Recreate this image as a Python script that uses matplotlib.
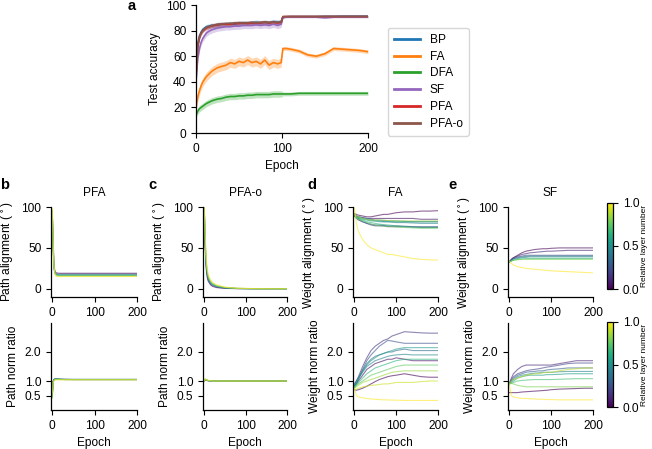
import numpy as np
import matplotlib
matplotlib.use("Agg")
import matplotlib.pyplot as plt
from matplotlib.cm import ScalarMappable
from matplotlib.colors import Normalize

plt.rcParams['font.family'] = ['Liberation Sans', 'DejaVu Sans']
plt.rcParams['font.size'] = 8.6
plt.rcParams['axes.linewidth'] = 0.9
plt.rcParams['xtick.major.size'] = 3.5
plt.rcParams['ytick.major.size'] = 3.5

# ---------------- Panel a data ----------------
epochs_a = [0, 2, 4, 6, 8, 10, 12, 15, 18, 20, 25, 30, 35, 40, 45, 50, 55, 60, 65, 70,
            75, 80, 85, 90, 95, 99, 101, 105, 110, 120, 130, 140, 150, 160, 170, 180, 190, 200]
methods = ['BP', 'FA', 'DFA', 'SF', 'PFA', 'PFA-o']
method_colors = ['#1f77b4', '#ff7f0e', '#2ca02c', '#9467bd', '#d62728', '#8c564b']
acc_bp = [45, 70, 76, 79, 81, 82, 83, 83.5, 84, 84, 84.5, 85, 85, 85.5, 85, 86, 85.5, 86, 86, 86.5,
          86, 86.5, 86, 87, 86.5, 87, 90.5, 90.8, 91, 91, 91, 91, 91.2, 91.2, 91.3, 91.3, 91.3, 91.3]
acc_fa = [20, 28, 33, 37, 40, 42, 44, 46, 48, 49, 51, 52, 53, 55, 54, 56, 55, 57, 55, 56,
          54, 57, 53, 55, 54, 55, 66, 66, 65.5, 64, 61, 60, 62, 66, 65.5, 65, 64.5, 63.5]
acc_dfa = [14, 17, 19, 20, 21, 22, 23, 24, 25, 25.5, 26.5, 27, 28, 28.5, 28.5, 29, 29, 29.5, 29.5, 30,
           30, 30, 30, 30.5, 30.5, 30.5, 30.5, 30.5, 30.5, 31, 31, 31, 31, 31, 31, 31, 31, 31]
acc_sf = [40, 58, 66, 71, 74, 76, 78, 79.5, 80.5, 81, 82, 82.5, 83, 83, 83.5, 83.5, 84, 84, 84, 84.5,
          84, 84.5, 84, 85, 84, 85, 90, 90.5, 90.5, 90.5, 90.5, 90.5, 90, 90.5, 90.5, 90.5, 90.5, 90.5]
acc_pfa = [45, 68, 75, 78, 80, 81, 82, 83, 83.5, 84, 84.5, 85, 85, 85, 85.5, 85.5, 86, 85.5, 86, 86,
           86, 86.5, 86, 86.5, 86, 86.5, 91, 91, 91, 91, 91, 91, 91, 91, 91, 91, 91, 91]
acc_pfao = [42, 67, 74, 78, 80, 81.5, 82.5, 83, 84, 84, 85, 85, 85.5, 85.5, 86, 86, 86, 86, 86.5, 86,
            86.5, 86.5, 86.5, 86.5, 86.5, 86.5, 90.8, 91, 91, 91, 91, 91, 91, 91, 91, 91, 91, 91]
acc_all = [acc_bp, acc_fa, acc_dfa, acc_sf, acc_pfa, acc_pfao]
# spread (std) before / after epoch 100
acc_spread_pre = [1.8, 3.5, 2.5, 2.5, 1.5, 1.5]
acc_spread_post = [0.4, 1.5, 1.5, 0.6, 0.4, 0.4]

# ---------------- Layer panels data ----------------
epochs_bc = [0, 2, 4, 6, 8, 10, 15, 20, 30, 50, 80, 120, 160, 200]
epochs_de = [0, 5, 10, 20, 30, 40, 50, 60, 70, 80, 90, 100, 120, 140, 160, 180, 200]

layers_b = [0.0, 0.2, 0.4, 0.55, 0.7, 0.85, 1.0]
pfa_align = [
    [95, 60, 30, 22, 20, 19.5, 19, 19, 19, 19, 19, 19, 19, 19],
    [93, 55, 28, 21, 19, 18, 18, 18, 18, 18, 18, 18, 18, 18],
    [92, 50, 25, 19, 17.5, 17, 16.5, 16.5, 16.5, 16.5, 16.5, 16.5, 16.5, 16.5],
    [94, 52, 26, 20, 18, 17.5, 17, 17, 17, 17, 17, 17, 17, 17],
    [96, 55, 27, 20, 18, 17, 16.5, 16.5, 16.5, 16.5, 16.5, 16.5, 16.5, 16.5],
    [97, 58, 27, 19, 17, 16, 15.5, 15.5, 15.5, 15.5, 15.5, 15.5, 15.5, 15.5],
    [98, 60, 28, 19, 16, 15, 15, 15, 15, 15, 15, 15, 15, 15],
]
pfa_norm = [
    [0.55, 1.0, 1.05, 1.06, 1.06, 1.06, 1.06, 1.06, 1.05, 1.05, 1.05, 1.05, 1.05, 1.05],
    [0.5, 0.98, 1.05, 1.07, 1.07, 1.07, 1.06, 1.06, 1.06, 1.05, 1.05, 1.05, 1.05, 1.05],
    [0.45, 0.97, 1.04, 1.07, 1.08, 1.08, 1.07, 1.06, 1.06, 1.06, 1.06, 1.06, 1.06, 1.06],
    [0.5, 0.96, 1.03, 1.06, 1.07, 1.07, 1.06, 1.06, 1.05, 1.05, 1.05, 1.05, 1.05, 1.05],
    [0.45, 0.95, 1.03, 1.05, 1.06, 1.06, 1.06, 1.05, 1.05, 1.05, 1.05, 1.05, 1.05, 1.05],
    [0.4, 0.93, 1.02, 1.04, 1.05, 1.05, 1.05, 1.05, 1.05, 1.05, 1.05, 1.05, 1.05, 1.05],
    [0.6, 0.95, 1.0, 1.03, 1.04, 1.04, 1.04, 1.04, 1.04, 1.04, 1.04, 1.04, 1.04, 1.04],
]
pfao_align = [
    [100, 55, 30, 18, 12, 9, 5, 3, 1.5, 0.5, 0.2, 0.1, 0.1, 0.1],
    [100, 58, 33, 20, 14, 10, 6, 4, 2, 0.8, 0.3, 0.1, 0.1, 0.1],
    [99, 60, 35, 22, 16, 12, 7, 5, 3, 1.2, 0.4, 0.2, 0.1, 0.1],
    [100, 62, 37, 24, 17, 13, 8, 5.5, 3, 1.2, 0.4, 0.2, 0.1, 0.1],
    [100, 65, 40, 26, 19, 14, 9, 6, 3.5, 1.5, 0.5, 0.2, 0.1, 0.1],
    [100, 68, 42, 28, 20, 15, 10, 7, 4, 1.8, 0.6, 0.2, 0.1, 0.1],
    [100, 70, 45, 30, 22, 17, 11, 8, 5, 2, 0.7, 0.3, 0.1, 0.1],
]
pfao_norm = [
    [1.0, 1.04, 1.03, 1.02, 1.01, 1.01, 1.0, 1.0, 1.0, 1.0, 1.0, 1.0, 1.0, 1.0],
    [1.0, 1.05, 1.04, 1.03, 1.02, 1.01, 1.0, 1.0, 1.0, 1.0, 1.0, 1.0, 1.0, 1.0],
    [1.0, 1.06, 1.05, 1.03, 1.02, 1.01, 1.01, 1.0, 1.0, 1.0, 1.0, 1.0, 1.0, 1.0],
    [1.0, 1.05, 1.04, 1.03, 1.02, 1.01, 1.0, 1.0, 1.0, 1.0, 1.0, 1.0, 1.0, 1.0],
    [1.0, 1.06, 1.05, 1.04, 1.02, 1.01, 1.01, 1.0, 1.0, 1.0, 1.0, 1.0, 1.0, 1.0],
    [1.0, 1.07, 1.05, 1.04, 1.03, 1.02, 1.01, 1.0, 1.0, 1.0, 1.0, 1.0, 1.0, 1.0],
    [1.0, 1.08, 1.06, 1.04, 1.03, 1.02, 1.01, 1.0, 1.0, 1.0, 1.0, 1.0, 1.0, 1.0],
]

layers_d = [0.0, 0.05, 0.15, 0.25, 0.35, 0.45, 0.55, 0.65, 0.75, 0.85, 1.0]
fa_align = [
    [92, 91, 90, 89, 88, 88, 89, 90, 91, 91, 92, 93, 94, 94, 95, 95, 95.5],
    [91, 89, 88, 87, 86, 86, 86, 86, 86, 86, 86, 86, 86, 86, 85, 85, 85],
    [90, 87, 85, 82, 80, 78, 77, 77, 77, 76, 76, 76, 76, 75.5, 75, 75, 75],
    [89, 86, 84, 82, 80, 79, 78, 78, 77.5, 77, 77, 77, 76.5, 76, 76, 76, 76],
    [91, 89, 88, 87, 86, 85, 84, 84, 83.5, 83, 83, 83, 82.5, 82, 82, 82, 82],
    [90, 88, 87, 86, 85, 84, 83, 83, 82, 82, 81.5, 81, 81, 80.5, 80, 80, 80],
    [89, 87, 86, 85, 84, 83, 83, 82, 82, 82, 82, 82, 82, 82, 82, 82, 82],
    [91, 88, 86, 84, 82, 81, 80, 79, 78.5, 78, 77.5, 77, 76, 75.5, 75, 75, 75],
    [90, 87, 85, 83, 81, 79, 78, 77, 76.5, 76, 76, 75.5, 75, 74.5, 74, 74, 74],
    [92, 89, 88, 86, 85, 84, 84, 84, 84, 83.5, 83.5, 83, 83, 83, 83, 83, 83],
    [100, 80, 70, 60, 54, 50, 48, 46, 44, 42, 42, 41, 39, 37, 36, 35.5, 35],
]
layers_dn = [0.0, 0.05, 0.15, 0.25, 0.35, 0.45, 0.55, 0.65, 0.75, 0.85, 0.92, 1.0]
fa_norm = [
    [0.7, 0.68, 0.7, 0.75, 0.82, 0.9, 0.98, 1.05, 1.1, 1.15, 1.18, 1.2, 1.25, 1.2, 1.15, 1.13, 1.13],
    [0.8, 0.9, 1.0, 1.2, 1.4, 1.5, 1.6, 1.65, 1.7, 1.75, 1.75, 1.8, 1.75, 1.7, 1.7, 1.7, 1.7],
    [0.85, 1.0, 1.15, 1.5, 1.8, 2.05, 2.2, 2.3, 2.4, 2.45, 2.55, 2.6, 2.7, 2.68, 2.66, 2.65, 2.65],
    [0.9, 1.0, 1.1, 1.4, 1.7, 1.9, 2.05, 2.2, 2.3, 2.4, 2.38, 2.35, 2.3, 2.3, 2.3, 2.3, 2.3],
    [0.8, 0.9, 1.05, 1.35, 1.6, 1.75, 1.85, 1.9, 1.95, 2.0, 2.0, 2.05, 2.1, 2.05, 2.05, 2.05, 2.05],
    [0.85, 0.95, 1.1, 1.3, 1.5, 1.6, 1.7, 1.75, 1.8, 1.85, 1.88, 1.9, 1.92, 1.9, 1.9, 1.9, 1.9],
    [0.8, 0.95, 1.1, 1.35, 1.55, 1.7, 1.8, 1.9, 1.95, 2.0, 2.05, 2.1, 2.15, 2.15, 2.15, 2.15, 2.15],
    [0.75, 0.85, 0.95, 1.1, 1.25, 1.35, 1.45, 1.5, 1.55, 1.6, 1.65, 1.7, 1.75, 1.75, 1.75, 1.75, 1.75],
    [0.8, 0.85, 0.9, 1.0, 1.1, 1.2, 1.25, 1.3, 1.35, 1.4, 1.45, 1.5, 1.55, 1.55, 1.55, 1.55, 1.55],
    [0.75, 0.8, 0.85, 0.95, 1.0, 1.05, 1.1, 1.15, 1.2, 1.25, 1.3, 1.32, 1.35, 1.35, 1.35, 1.35, 1.35],
    [0.7, 0.72, 0.75, 0.8, 0.82, 0.85, 0.86, 0.88, 0.9, 0.9, 0.92, 0.95, 0.95, 0.95, 0.98, 1.0, 1.0],
    [0.75, 0.5, 0.45, 0.42, 0.4, 0.38, 0.37, 0.36, 0.35, 0.35, 0.34, 0.34, 0.33, 0.33, 0.33, 0.33, 0.33],
]

layers_e = [0.0, 0.1, 0.25, 0.35, 0.5, 0.65, 0.8, 1.0]
sf_align = [
    [33, 36, 38, 41, 44, 46, 47, 48, 48.5, 49, 49, 49.5, 50, 50, 50, 50, 50],
    [33, 36, 38, 40, 42, 43, 44, 44.5, 45, 45.5, 46, 46, 46.5, 47, 47, 47, 47],
    [33, 35, 37, 39, 40, 41, 41, 41, 41, 41, 41, 41, 41, 41, 41, 41, 41],
    [33, 35, 37, 38, 39, 39.5, 40, 40, 40, 40, 40, 40, 40, 40, 40, 40, 40],
    [33, 34, 36, 37, 38, 38.5, 39, 39, 39, 39, 39, 39, 39, 39, 39, 39, 39],
    [33, 34, 35, 36, 36.5, 37, 37, 37, 37, 37, 37, 37, 37, 37, 37, 37, 37],
    [33, 34, 35, 35.5, 36, 36, 36, 36, 36, 36, 36, 36, 36, 36, 36, 36, 36],
    [34, 31, 29, 27, 26, 25, 24.5, 24, 23.5, 23, 22.5, 22, 21.5, 21, 20.5, 20, 19.5],
]
layers_en = [0.0, 0.1, 0.2, 0.3, 0.45, 0.55, 0.7, 0.8, 0.9, 1.0]
sf_norm = [
    [0.6, 0.6, 0.6, 0.6, 0.62, 0.63, 0.64, 0.65, 0.66, 0.67, 0.68, 0.7, 0.72, 0.73, 0.74, 0.75, 0.75],
    [0.9, 1.1, 1.25, 1.4, 1.5, 1.55, 1.55, 1.55, 1.55, 1.55, 1.55, 1.55, 1.6, 1.65, 1.7, 1.7, 1.7],
    [0.9, 1.05, 1.15, 1.25, 1.3, 1.35, 1.38, 1.4, 1.42, 1.45, 1.48, 1.5, 1.55, 1.6, 1.62, 1.62, 1.62],
    [0.9, 1.0, 1.1, 1.2, 1.25, 1.3, 1.32, 1.33, 1.35, 1.35, 1.38, 1.4, 1.42, 1.45, 1.45, 1.45, 1.45],
    [0.9, 1.0, 1.05, 1.15, 1.2, 1.22, 1.25, 1.27, 1.28, 1.3, 1.3, 1.3, 1.32, 1.33, 1.33, 1.33, 1.33],
    [0.9, 0.95, 1.0, 1.1, 1.15, 1.18, 1.2, 1.2, 1.2, 1.2, 1.22, 1.22, 1.23, 1.25, 1.25, 1.25, 1.25],
    [0.9, 0.92, 0.95, 1.0, 1.02, 1.03, 1.04, 1.05, 1.05, 1.05, 1.05, 1.05, 1.06, 1.07, 1.08, 1.08, 1.08],
    [0.9, 0.92, 0.9, 0.85, 0.82, 0.8, 0.8, 0.8, 0.8, 0.8, 0.8, 0.8, 0.8, 0.8, 0.8, 0.8, 0.8],
    [0.9, 1.0, 1.05, 1.1, 1.15, 1.2, 1.22, 1.25, 1.25, 1.28, 1.3, 1.3, 1.35, 1.4, 1.42, 1.45, 1.45],
    [0.9, 0.5, 0.45, 0.42, 0.4, 0.4, 0.39, 0.38, 0.37, 0.37, 0.36, 0.36, 0.35, 0.35, 0.35, 0.35, 0.35],
]

# ---------------- Figure ----------------
W, H = 652, 449
fig = plt.figure(figsize=(W / 100, H / 100), dpi=100)


def px_axes(x0, y0, x1, y1):
    return fig.add_axes([x0 / W, 1 - y1 / H, (x1 - x0) / W, (y1 - y0) / H])


def style(ax):
    ax.spines['top'].set_visible(False)
    ax.spines['right'].set_visible(False)


# Panel a
ax = px_axes(196, 5, 368, 133)
style(ax)
ep = np.array(epochs_a)
for name, col, vals, sp0, sp1 in zip(methods, method_colors, acc_all, acc_spread_pre, acc_spread_post):
    v = np.array(vals, dtype=float)
    sp = np.where(ep < 100, sp0, sp1)
    ax.fill_between(ep, v - sp, v + sp, color=col, alpha=0.3, lw=0)
    ax.plot(ep, v, color=col, lw=1.2, label=name)
ax.set_xlim(0, 200)
ax.set_ylim(0, 100)
ax.set_xticks([0, 100, 200])
ax.set_yticks([0, 20, 40, 60, 80, 100])
ax.set_xlabel('Epoch')
ax.set_ylabel('Test accuracy')
leg = fig.legend(handles=ax.get_lines(), labels=methods, loc='upper left',
                 bbox_to_anchor=(382 / W, 1 - 22 / H), frameon=True, fontsize=8.6,
                 handlelength=2.2, borderpad=0.5, labelspacing=0.4, fancybox=True)
for h in leg.get_lines():
    h.set_linewidth(2)
leg.get_frame().set_edgecolor('#cccccc')
fig.text(128 / W, 1 - 6 / H, 'a', fontsize=10.5, fontweight='bold', va='center', ha='left')

cmap = plt.get_cmap('viridis')


def layer_panel(x0, x1, title, eps, lays_top, top_data, lays_bot, bot_data, ylab_top, ylab_bot):
    at = px_axes(x0, 207, x1, 297)
    ab = px_axes(x0, 323, x1, 410)
    for a in (at, ab):
        style(a)
        a.set_xlim(-3, 200)
        a.set_xticks([0, 100, 200])
    for lv, d in zip(lays_top, top_data):
        at.plot(eps, d, color=cmap(lv), lw=0.8, alpha=0.6)
    for lv, d in zip(lays_bot, bot_data):
        ab.plot(eps, d, color=cmap(lv), lw=0.8, alpha=0.6)
    at.set_ylim(-10, 100)
    at.set_yticks([0, 50, 100])
    ab.set_ylim(0, 3)
    ab.set_yticks([0.5, 1.0, 2.0])
    ab.set_yticklabels(['0.5', '1.0', '2.0'])
    at.set_ylabel(ylab_top)
    ab.set_ylabel(ylab_bot)
    ab.set_xlabel('Epoch')
    at.set_title(title, fontsize=8.6, pad=8)
    return at, ab


layer_panel(51, 137, 'PFA', epochs_bc, layers_b, pfa_align, layers_b, pfa_norm,
            'Path alignment ($^\\circ$)', 'Path norm ratio')
layer_panel(203, 287, 'PFA-o', epochs_bc, layers_b, pfao_align, layers_b, pfao_norm,
            'Path alignment ($^\\circ$)', 'Path norm ratio')
layer_panel(353, 438, 'FA', epochs_de, layers_d, fa_align, layers_dn, fa_norm,
            'Weight alignment ($^\\circ$)', 'Weight norm ratio')
layer_panel(508, 593, 'SF', epochs_de, layers_e, sf_align, layers_en, sf_norm,
            'Weight alignment ($^\\circ$)', 'Weight norm ratio')

for lab, x in zip(['b', 'c', 'd', 'e'], [0, 148, 307, 448]):
    fig.text(x / W, 1 - 185 / H, lab, fontsize=10.5, fontweight='bold', va='center', ha='left')

# Colorbars
for (y0, y1) in [(203, 289), (322, 407)]:
    cax = px_axes(607, y0, 613, y1)
    sm = ScalarMappable(norm=Normalize(0, 1), cmap=cmap)
    cb = fig.colorbar(sm, cax=cax, ticks=[0, 0.5, 1.0])
    cb.ax.set_yticklabels(['0.0', '0.5', '1.0'])
    cb.outline.set_linewidth(0.9)
    cb.set_label('Relative layer number', fontsize=6.0, labelpad=1)

fig.savefig('out.png', dpi=100)
